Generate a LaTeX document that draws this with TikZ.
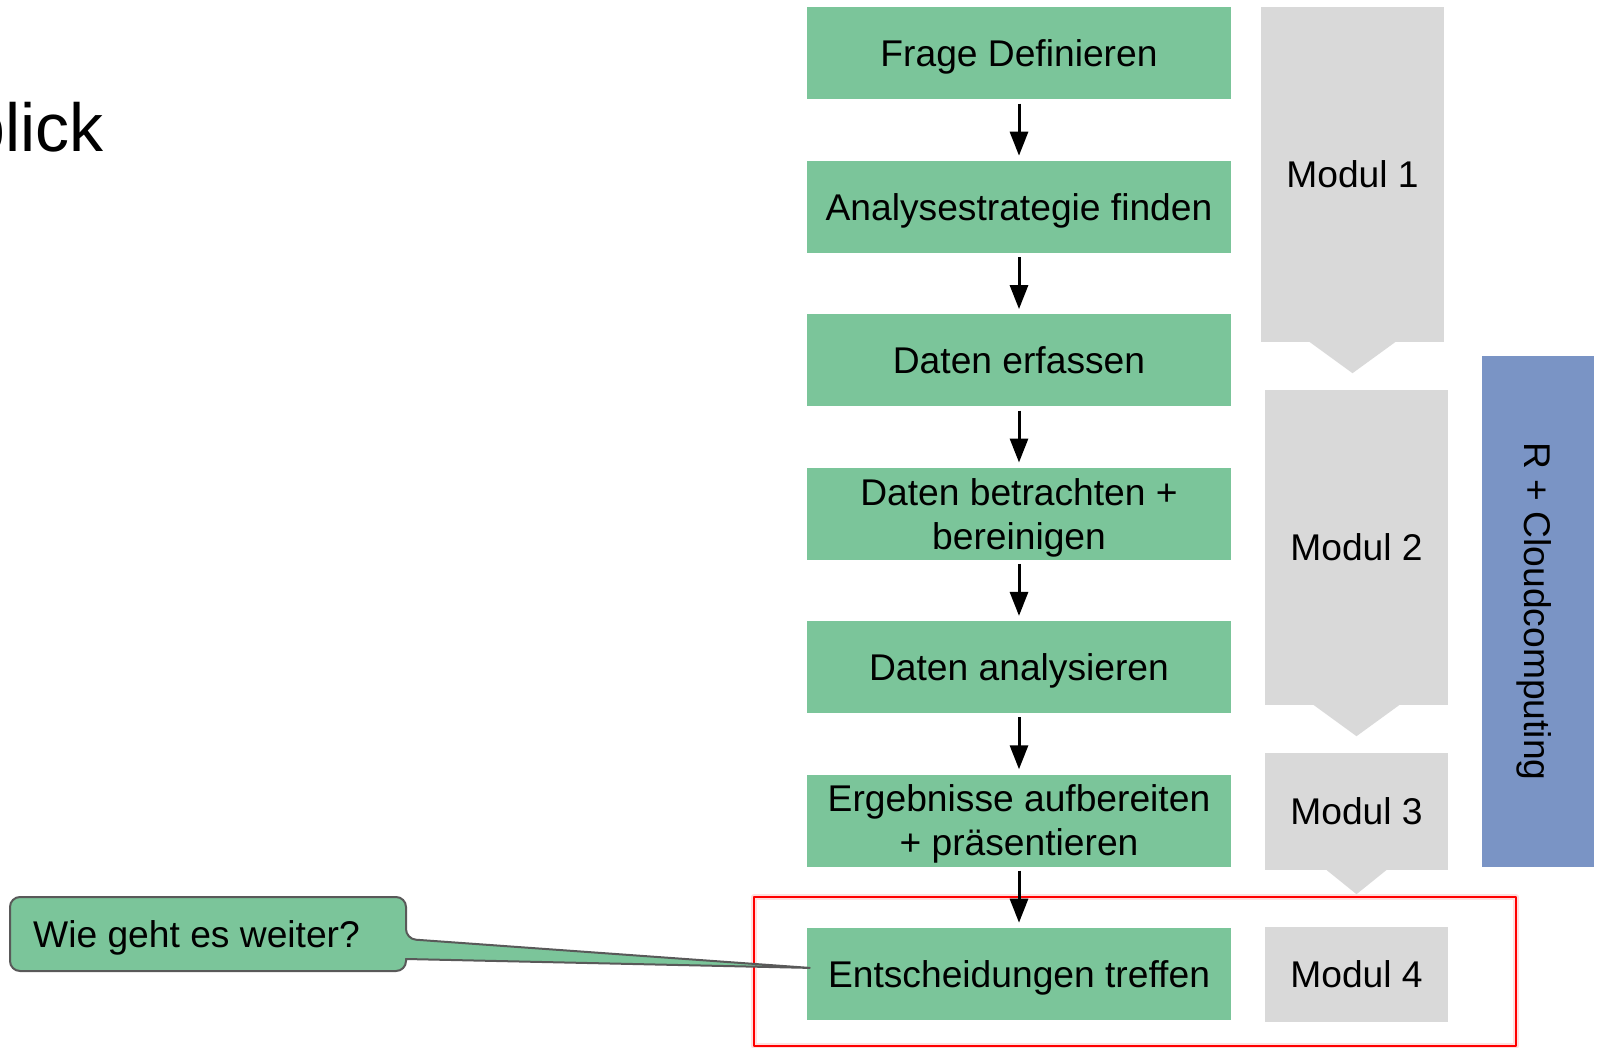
\documentclass[tikz,border=0pt]{standalone}
\usepackage{fontspec}
\setmainfont{Liberation Sans}
\usetikzlibrary{arrows.meta,positioning}
\definecolor{gruen}{RGB}{123,197,154}
\definecolor{grau}{RGB}{217,217,217}
\definecolor{blaugrau}{RGB}{122,148,197}
\definecolor{rand}{RGB}{89,89,89}
\begin{document}
\begin{tikzpicture}[x=1pt,y=-1pt,line join=round,>={Triangle[width=18pt,length=24pt]}]
	\tikzset{
		schrift/.style={font=\fontsize{37.2}{44}\selectfont,text depth=0pt},
		schritt/.style={schrift,fill=gruen,minimum width=424pt,minimum height=92pt,inner sep=0pt,align=center},
		modul/.style={schrift,fill=grau,minimum width=183pt,inner sep=0pt},
		pfeil/.style={->,line width=3pt,shorten <=4pt,shorten >=5pt},
	}
	\useasboundingbox (0,0) rectangle (1598,1048);
	%%% Titel (abgeschnitten)
	\node[anchor=base west,inner sep=0pt,font=\fontsize{68}{80}\selectfont] (titel) at (-32.9,152) {blick};
	%%% Rahmen
	\draw[red!12,line width=6pt] (754,897) rectangle (1516,1046);
	\draw[red,line width=2pt] (754,897) rectangle (1516,1046);
	%%% Schritte
	\foreach \i/\t in {1/{Frage Definieren},2/{Analysestrategie finden},3/{Daten erfassen},4/{Daten betrachten +\\bereinigen},5/{Daten analysieren},6/{Ergebnisse aufbereiten\\+ präsentieren},7/{Entscheidungen treffen}}
	\node[schritt] (s\i) at (1019,{53.5+153.4*(\i-1)}) {\t};
	\foreach \i [count=\j from 2] in {1,...,6}
	\draw[pfeil] (s\i) -- (s\j);
	%%% Module
	\node[modul,minimum height=335pt] (m1) at (1352.5,174.5) {Modul 1};
	\node[modul,minimum height=315pt] (m2) at (1356.5,547.5) {Modul 2};
	\node[modul,minimum height=117pt] (m3) at (1356.5,811.5) {Modul 3};
	\node[modul,minimum height=95pt] (m4) at (1356.5,974.5) {Modul 4};
	\fill[grau] (m1.south) ++(-44,-1) -- ++(88,0) -- ++(-44,32) -- cycle;
	\fill[grau] (m2.south) ++(-44,-1) -- ++(88,0) -- ++(-44,32) -- cycle;
	\fill[grau] (m3.south) ++(-31,-1) -- ++(62,0) -- ++(-31,25) -- cycle;
	%%% R + Cloud
	\node[schrift,fill=blaugrau,rotate=-90,minimum width=511pt,minimum height=112pt,inner sep=0pt] (cloud) at (1538,611.5) {R + Cloudcomputing};
	%%% Sprechblase
	\draw[fill=gruen,draw=rand,line width=2pt,rounded corners=10pt] (10,897) -- (406,897) -- (406,939) [sharp corners] -- ([shift={(3,-6)}]s7.west) -- (406,959) [rounded corners=10pt] -- (406,971) -- (10,971) -- cycle;
	\node[schrift,anchor=west,inner sep=0pt] (frage) at (33,934) {Wie geht es weiter?};
\end{tikzpicture}
\end{document}
